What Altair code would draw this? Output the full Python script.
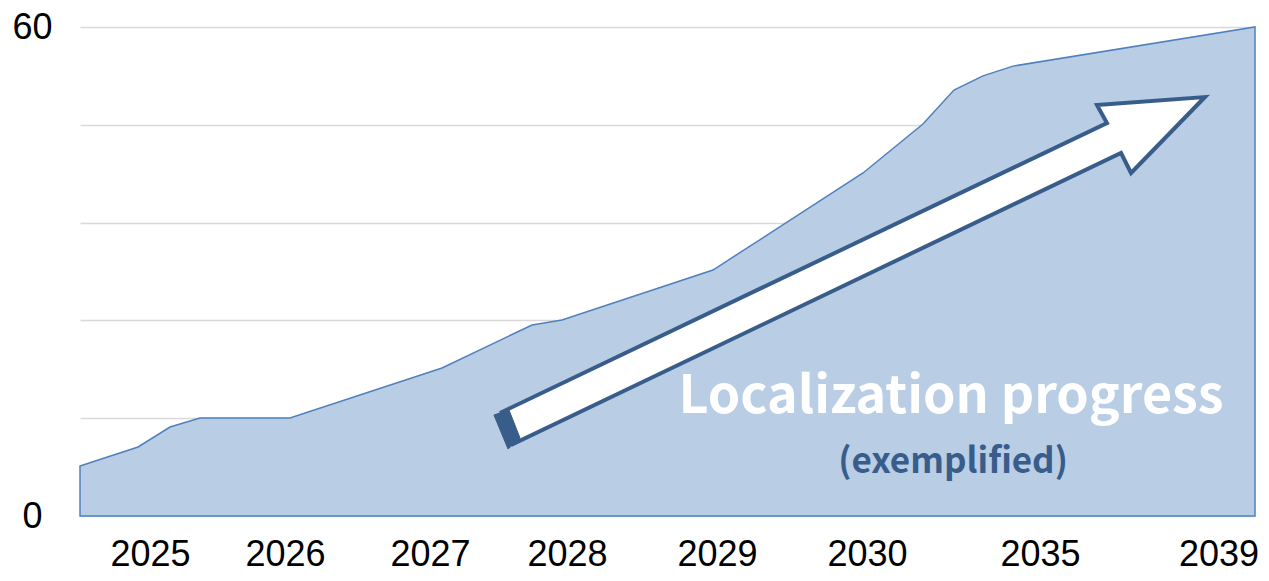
import altair as alt
import pandas as pd

# Area series (t = position along the time axis in % of width, v = value)
area_t = [0, 4.94, 7.66, 10.21, 17.87, 30.81, 38.47, 41.02, 53.87, 66.64, 71.74, 74.38, 76.85, 79.40, 100]
area_v = [6.13, 8.47, 10.92, 12.02, 12.02, 18.16, 23.44, 24.05, 30.18, 42.09, 48.1, 52.27, 54.0, 55.2, 60]

# Axis tick labels
year_pos = [5.96, 17.45, 29.79, 41.45, 54.21, 66.98, 81.70, 96.9]
year_labels = ["2025", "2026", "2027", "2028", "2029", "2030", "2035", "2039"]
y_grid = [0, 12, 24, 36, 48, 60]

# Annotation arrow outline (data units)
arrow_t = [35.74, 87.40, 86.55, 95.74, 89.45, 88.60, 36.85, 35.74]
arrow_v = [12.64, 48.22, 50.43, 51.41, 42.09, 44.54, 8.83, 12.64]
tail_t = [35.23, 36.51, 37.45, 36.43, 35.23]
tail_v = [12.39, 13.01, 9.57, 8.22, 12.39]

labels_text = ["Localization progress", "(exemplified)"]

area_df = pd.DataFrame({"t": area_t, "v": area_v})
arrow_df = pd.DataFrame({"t": arrow_t, "v": arrow_v, "i": list(range(len(arrow_t)))})
tail_df = pd.DataFrame({"t": tail_t, "v": tail_v, "i": list(range(len(tail_t)))})

label_arr = "[" + ",".join(f"'{s}'" for s in year_labels) + "]"
pos_arr = "[" + ",".join(str(p) for p in year_pos) + "]"

x_axis = alt.Axis(
    values=year_pos,
    labelExpr=f"{label_arr}[indexof({pos_arr}, datum.value)]",
    title=None, grid=False, domain=False, ticks=False,
    labelFont="Liberation Sans", labelFontSize=36, labelColor="#000000",
    labelPadding=38, labelBaseline="middle", labelAlign="center",
    labelFlush=False, labelOverlap=False,
)
y_axis = alt.Axis(
    values=y_grid,
    labelExpr="(datum.value == 0 || datum.value == 60) ? datum.label : ''",
    title=None, grid=True, gridColor="#d9d9d9", gridWidth=1.5,
    domain=False, ticks=False,
    labelFont="Liberation Sans", labelFontSize=36, labelColor="#000000",
    labelPadding=48, labelAlign="center", labelBaseline="middle",
    labelFlush=False, labelOverlap=False,
)

xs = alt.Scale(domain=[0, 100], nice=False, zero=False)
ys = alt.Scale(domain=[0, 60], nice=False)

def X():
    return alt.X("t:Q", scale=xs, axis=x_axis)

def Y():
    return alt.Y("v:Q", scale=ys, axis=y_axis)

area = alt.Chart(area_df).mark_area(
    color="#b9cde5", fill="#b9cde5", stroke="#4f81bd", strokeWidth=1.5, opacity=1
).encode(x=X(), y=Y())

arrow = alt.Chart(arrow_df).mark_line(
    fill="white", stroke="#385d8a", strokeWidth=4, strokeJoin="miter"
).encode(x=X(), y=Y(), order=alt.Order("i:Q"))

tail = alt.Chart(tail_df).mark_line(
    fill="#385d8a", stroke="#385d8a", strokeWidth=1
).encode(x=X(), y=Y(), order=alt.Order("i:Q"))

t1 = alt.Chart(pd.DataFrame({"t": [74.13], "v": [12.64], "s": [labels_text[0]]})).mark_text(
    font="Noto Sans CJK KR", fontWeight="bold", fontSize=52, color="white",
    align="center", baseline="alphabetic"
).encode(x=X(), y=Y(), text="s:N")

t2 = alt.Chart(pd.DataFrame({"t": [74.3], "v": [6.63], "s": [labels_text[1]]})).mark_text(
    font="Noto Sans CJK KR", fontWeight="bold", fontSize=35, color="#385d8a",
    align="center", baseline="middle"
).encode(x=X(), y=Y(), text="s:N")

chart = alt.layer(area, arrow, tail, t1, t2).properties(
    width=1175, height=489,
    padding={"left": 72, "top": 19, "right": 6, "bottom": 57},
    autosize=alt.AutoSizeParams(type="none"),
).configure_view(stroke=None)

chart.save("out.html", embed_options={"renderer": "svg", "actions": False})
